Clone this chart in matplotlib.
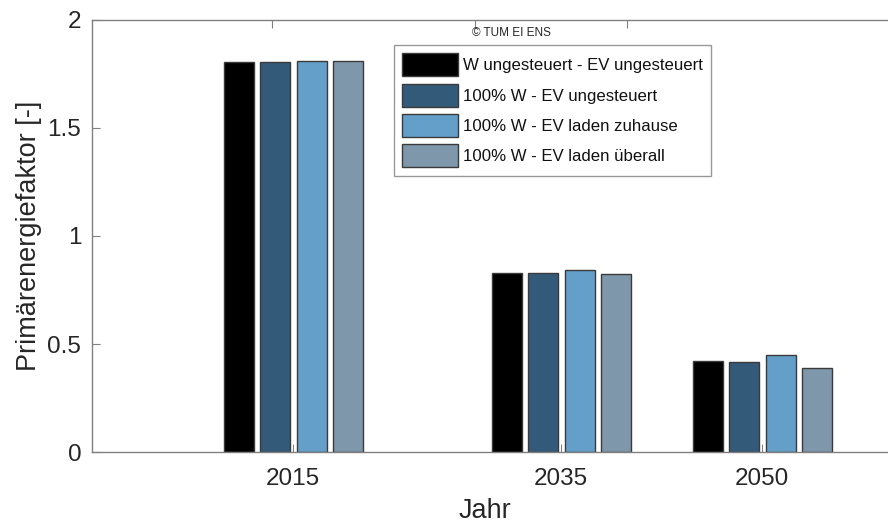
import matplotlib
matplotlib.use("Agg")
import matplotlib.pyplot as plt
import numpy as np

years = [2015, 2035, 2050]
series_labels = [
    "W ungesteuert - EV ungesteuert",
    "100% W - EV ungesteuert",
    "100% W - EV laden zuhause",
    "100% W - EV laden überall",
]
w_ungesteuert_ev_ungesteuert = [1.806, 0.829, 0.421]
w100_ev_ungesteuert = [1.806, 0.829, 0.416]
w100_ev_laden_zuhause = [1.808, 0.841, 0.451]
w100_ev_laden_ueberall = [1.808, 0.826, 0.391]
y_ticks = [0, 0.5, 1, 1.5, 2]
y_ticklabels = ["0", "0.5", "1", "1.5", "2"]

series = [w_ungesteuert_ev_ungesteuert, w100_ev_ungesteuert,
          w100_ev_laden_zuhause, w100_ev_laden_ueberall]
colors = ["#000000", "#345a7a", "#639fc9", "#7e97aa"]

plt.rcParams['font.family'] = ['Liberation Sans', 'DejaVu Sans']
fig = plt.figure(figsize=(8.88, 5.26), dpi=100)
ax = fig.add_axes([92.3/888, 1-452.3/526, 804/888, 432.6/526])

step = 2.72
width = 2.24
x = np.array(years, dtype=float)
for i, (vals, c, lab) in enumerate(zip(series, colors, series_labels)):
    off = (i - 1.5) * step
    ax.bar(x + off, vals, width=width, color=c, edgecolor="#3a3a3a",
           linewidth=1.0, label=lab, zorder=2)

ax.set_xlim(2000, 2060)
ax.set_ylim(0, 2)
ax.set_xticks(years)
ax.set_xticklabels([str(y) for y in years])
ax.set_yticks(y_ticks)
ax.set_yticklabels(y_ticklabels)

axcol = "#808080"
for s in ax.spines.values():
    s.set_color(axcol)
    s.set_linewidth(1.0)
ax.tick_params(axis='both', direction='in', length=6, width=0.8, color=axcol,
               labelsize=17.5, labelcolor="#262626")
ax.tick_params(axis='y', pad=8, right=True)
ax.tick_params(axis='x', pad=11)

ax.set_xlabel("Jahr", fontsize=19.5, color="#262626", labelpad=6)
ax.set_ylabel("Primärenergiefaktor [-]", fontsize=19.5, color="#262626", labelpad=3.5)
ax.xaxis.label.set_x((485 - 92.3) / 804)

# top axis ticks (rendered at a different scale in the original)
p0, s_bot = 92.3, 13.4
p_top0, s_top = 272.0, 10.15
fwd = lambda v: 2015 + (p0 + (v - 2000) * s_bot - p_top0) / s_top
inv = lambda t: 2000 + (p_top0 + (t - 2015) * s_top - p0) / s_bot
sec = ax.secondary_xaxis('top', functions=(fwd, inv))
sec.set_xticks(years)
sec.tick_params(direction='in', length=6, width=0.8, color=axcol, labeltop=False)
sec.spines['top'].set_visible(False)

fig.text(511/888, 1-32.5/526, "© TUM EI ENS", fontsize=8.5,
         color="#262626", ha='center', va='center')

fs = 12.1
fpx = fs * 100 / 72
hh = (22.7 / fpx - 0.245) / 0.65
leg = ax.legend(loc='upper right', bbox_to_anchor=(711/888, 1-45/526),
                bbox_transform=fig.transFigure, prop={'size': fs},
                handlelength=56/fpx, handleheight=hh, handletextpad=4.3/fpx,
                labelspacing=(30.3-22.7)/fpx, borderpad=8.5/fpx, fancybox=False,
                frameon=True, borderaxespad=0)
leg.get_frame().set_edgecolor("#808080")
leg.get_frame().set_linewidth(1.0)
for t in leg.get_texts():
    t.set_color("#111111")

fig.savefig("out.png", dpi=100)
